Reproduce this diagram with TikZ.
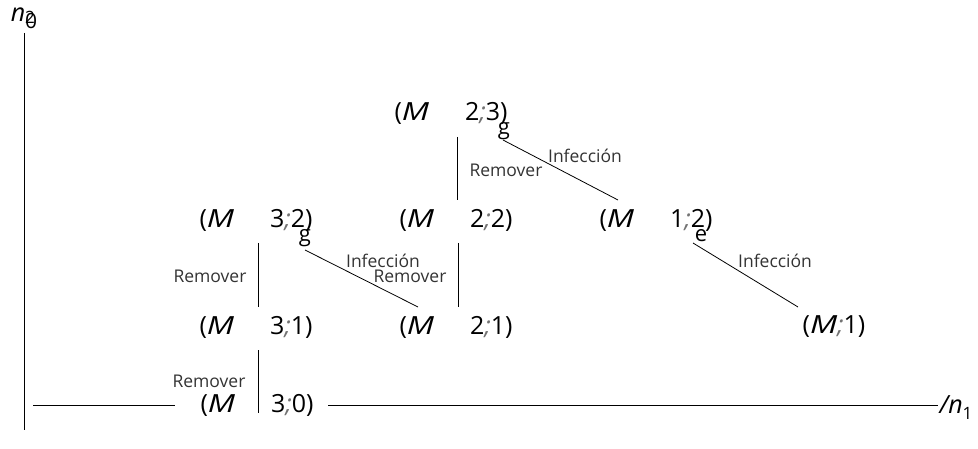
\documentclass[tikz,border=0pt]{standalone}
\usepackage{fontspec}
\setmainfont{Open Sans}
\begin{document}
\begin{tikzpicture}[x=1pt,y=-1pt,
  st/.style={inner sep=0pt,font=\fontsize{25}{28}\selectfont},
  lab/.style={inner sep=0pt,font=\fontsize{17.5}{20}\selectfont,text=black!80},
  ln/.style={draw=black,line width=0.8pt},
  glyph/.style={inner sep=0pt,font=\fontsize{22}{24}\selectfont}]
\useasboundingbox (0,0) rectangle (978,449);
\newcommand{\myM}{\scalebox{1.3}[1]{\textit{M}}}
\newcommand{\mysemi}{\textcolor{black!55}{\textit{;}}}
\newcommand{\stt}[1]{(\myM\hspace{36pt}#1)}
% axes
\coordinate (ytop) at (24,33);
\coordinate (ybot) at (24,430);
\draw[ln] (ytop) -- (ybot);
\node[inner sep=0pt,font=\fontsize{25}{28}\selectfont] (n2) at (24,18) {\textit{n}\rlap{\raisebox{-2pt}{\fontsize{17}{17}\selectfont 2}}\raisebox{-7pt}{\fontsize{21}{21}\selectfont 0}};
\node[st] (s30) at (257,405) {\stt{3\mysemi0}};
\coordinate (xl) at (33,405);
\coordinate (xm1) at (175,405);
\coordinate (xm2) at (328,405);
\coordinate (xr) at (938,405);
\draw[ln] (xl) -- (xm1);
\draw[ln] (xm2) -- (xr);
\node[inner sep=0pt,font=\fontsize{25}{28}\selectfont] (n1) at (956,408) {\textit{/n}\raisebox{-6pt}{\fontsize{17}{17}\selectfont 1}};
% states
\node[st] (s23) at (451,113) {\stt{2\mysemi3}};
\node[st] (s32) at (256,220) {\stt{3\mysemi2}};
\node[st] (s22) at (456,220) {\stt{2\mysemi2}};
\node[st] (s12) at (656,220) {\stt{1\mysemi2}};
\node[st] (s31) at (256,327) {\stt{3\mysemi1}};
\node[st] (s21) at (456,327) {\stt{2\mysemi1}};
\node[st] (sM1) at (834,327) {(\myM\mysemi1)};
% glyphs
\node[glyph] (g1) at (504,131) {g};
\node[glyph] (g2) at (305,238) {g};
\node[glyph] (e1) at (701,236) {e};
% connectors
\coordinate (a1) at (457,137); \coordinate (a2) at (457,200);
\draw[ln] (a1) -- (a2);
\coordinate (b1) at (503,140); \coordinate (b2) at (618,200);
\draw[ln] (b1) -- (b2);
\coordinate (c1) at (258,243); \coordinate (c2) at (258,307);
\draw[ln] (c1) -- (c2);
\coordinate (d1) at (305,250); \coordinate (d2) at (418,307);
\draw[ln] (d1) -- (d2);
\coordinate (f1) at (458,243); \coordinate (f2) at (458,307);
\draw[ln] (f1) -- (f2);
\coordinate (h1) at (693,243); \coordinate (h2) at (798,307);
\draw[ln] (h1) -- (h2);
\coordinate (k1) at (258,350); \coordinate (k2) at (258,413);
\draw[ln] (k1) -- (k2);
% labels
\node[lab] (l1) at (585,156) {Infección};
\node[lab] (l2) at (506,170) {Remover};
\node[lab] (l3) at (210,276) {Remover};
\node[lab] (l4) at (383,261) {Infección};
\node[lab] (l5) at (410,276) {Remover};
\node[lab] (l6) at (775,261) {Infección};
\node[lab] (l7) at (209,381) {Remover};
\end{tikzpicture}
\end{document}
